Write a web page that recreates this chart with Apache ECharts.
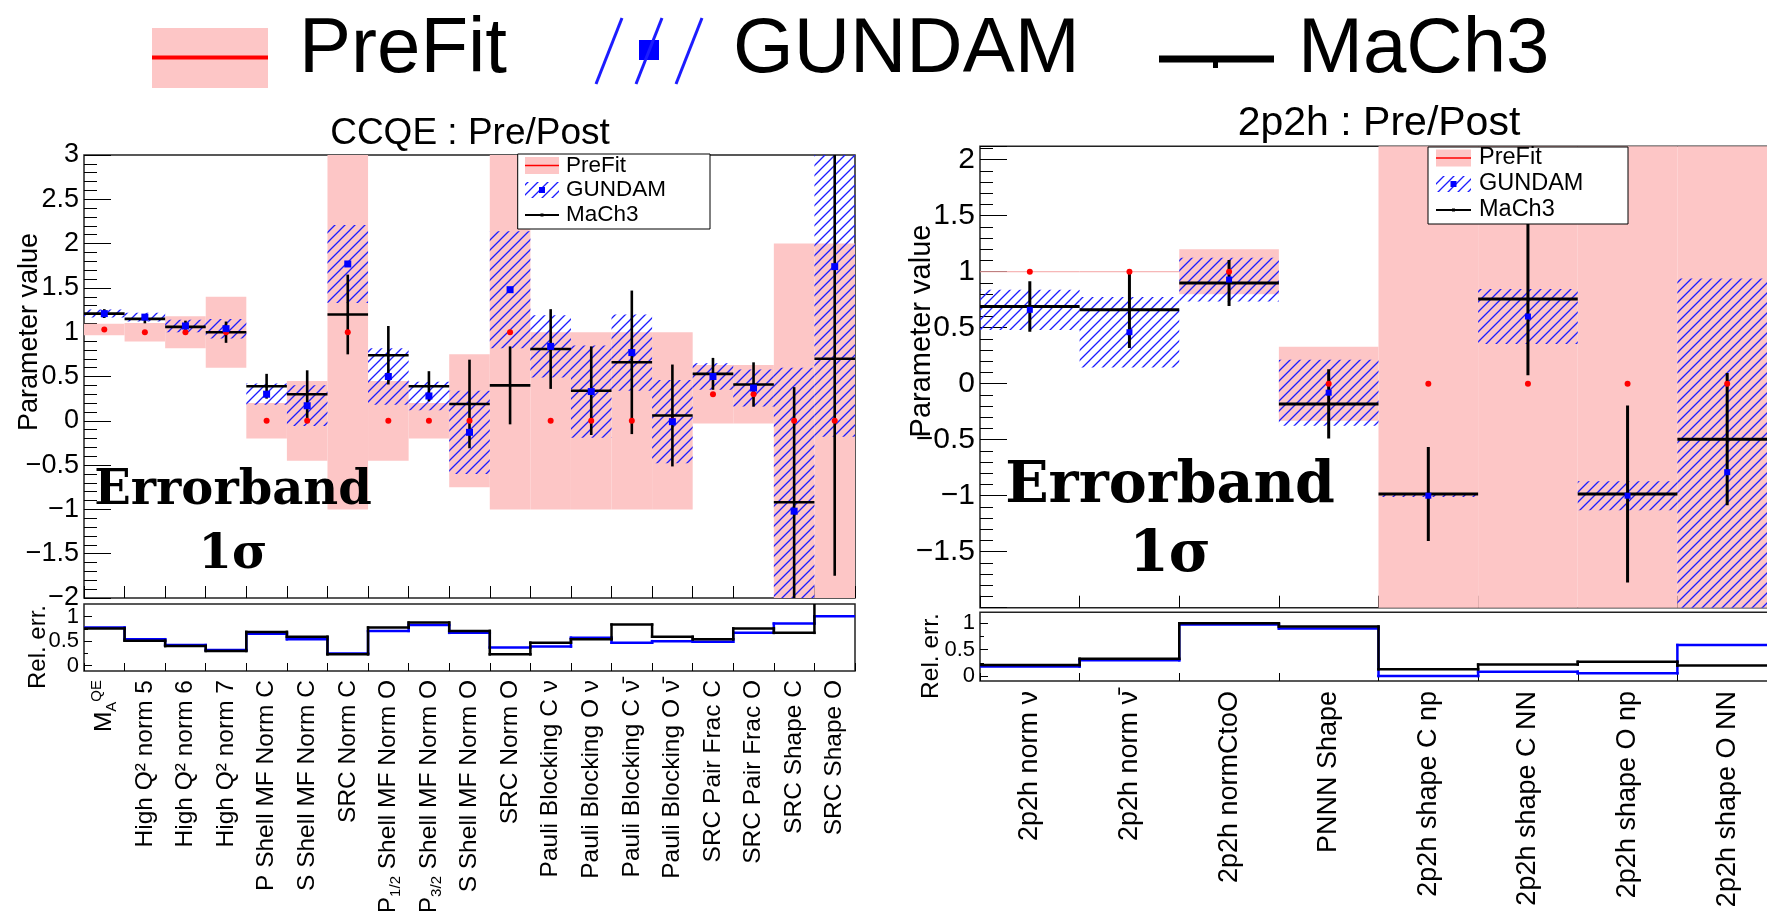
<!DOCTYPE html>
<html><head><meta charset="utf-8">
<script src="https://cdn.jsdelivr.net/npm/echarts@6/dist/echarts.min.js"></script>
<style>html,body{margin:0;padding:0;background:#fff}#c{width:1767px;height:911px}</style>
</head><body><div id="c"></div><script>
// ---------------- data ----------------
const ccqeLabels = ['M_A^QE','High Q\u00B2 norm 5','High Q\u00B2 norm 6','High Q\u00B2 norm 7','P Shell MF Norm C','S Shell MF Norm C','SRC Norm C','P_1/2 Shell MF Norm O','P_3/2 Shell MF Norm O','S Shell MF Norm O','SRC Norm O','Pauli Blocking C \u03BD','Pauli Blocking O \u03BD','Pauli Blocking C \u03BD\u0304','Pauli Blocking O \u03BD\u0304','SRC Pair Frac C','SRC Pair Frac O','SRC Shape C','SRC Shape O'];
const ccqePrefit      = [1.03, 1, 1, 1, 0, 0, 1, 0, 0, 0, 1, 0, 0, 0, 0, 0.3, 0.3, 0, 0];
const ccqePrefitErr   = [0.065, 0.105, 0.18, 0.4, 0.2, 0.45, 2, 0.45, 0.2, 0.75, 2, 1, 1, 1, 1, 0.33, 0.33, 2, 2];
const ccqeGundam      = [1.21, 1.17, 1.07, 1.04, 0.30, 0.17, 1.77, 0.50, 0.28, -0.13, 1.48, 0.84, 0.33, 0.77, -0.01, 0.50, 0.37, -1.02, 1.74];
const ccqeGundamErr   = [0.045, 0.05, 0.07, 0.11, 0.12, 0.23, 0.44, 0.32, 0.16, 0.47, 0.66, 0.35, 0.52, 0.43, 0.47, 0.15, 0.21, 1.62, 1.92];
const ccqeMach3       = [1.21, 1.15, 1.06, 1.0, 0.39, 0.30, 1.2, 0.74, 0.39, 0.19, 0.40, 0.81, 0.34, 0.66, 0.06, 0.53, 0.41, -0.92, 0.70];
const ccqeMach3Err    = [0.05, 0.05, 0.07, 0.12, 0.14, 0.27, 0.45, 0.33, 0.17, 0.5, 0.44, 0.45, 0.5, 0.81, 0.575, 0.18, 0.25, 1.3, 2.45];
const ccqeRelGundam   = [0.78, 0.54, 0.42, 0.32, 0.65, 0.54, 0.25, 0.71, 0.83, 0.67, 0.37, 0.39, 0.57, 0.47, 0.50, 0.49, 0.67, 0.86, 1.01];
const ccqeRelMach3    = [0.76, 0.51, 0.40, 0.30, 0.69, 0.59, 0.23, 0.78, 0.88, 0.71, 0.23, 0.47, 0.54, 0.84, 0.59, 0.54, 0.76, 0.67, 1.35];

const p2Labels = ['2p2h norm \u03BD','2p2h norm \u03BD\u0304','2p2h normCtoO','PNNN Shape','2p2h shape C np','2p2h shape C NN','2p2h shape O np','2p2h shape O NN'];
const p2Prefit     = [1, 1, 1, 0, 0, 0, 0, 0];
const p2PrefitErr  = [0, 0, 0.2, 0.33, 3, 3, 3, 3];
const p2Gundam     = [0.66, 0.46, 0.93, -0.08, -1.0, 0.60, -1.0, -0.79];
const p2GundamErr  = [0.18, 0.315, 0.195, 0.295, 0.012, 0.245, 0.13, 1.73];
const p2Mach3      = [0.69, 0.66, 0.90, -0.18, -0.985, 0.756, -0.985, -0.495];
const p2Mach3Err   = [0.225, 0.34, 0.205, 0.31, 0.42, 0.68, 0.79, 0.59];
const p2RelGundam  = [0.18, 0.30, 0.98, 0.90, 0.0, 0.08, 0.05, 0.59];
const p2RelMach3   = [0.21, 0.33, 1.0, 0.94, 0.13, 0.22, 0.27, 0.20];

const mainTicks = [-2, -1.5, -1, -0.5, 0, 0.5, 1, 1.5, 2, 2.5, 3];
const relTicks = [0, 0.5, 1];

// ---------------- styles ----------------
const FONT = 'Liberation Sans';
const PINK = '#fdc6c6';
const BLUE = '#0000ff';
const HATCH = '#1c1cff';

function makeHatch(step, color, lw) {
  const c = document.createElement('canvas');
  c.width = step; c.height = step;
  const ctx = c.getContext('2d');
  ctx.strokeStyle = color; ctx.lineWidth = lw;
  ctx.beginPath();
  ctx.moveTo(0, step); ctx.lineTo(step, 0);
  ctx.moveTo(-step / 2, step / 2); ctx.lineTo(step / 2, -step / 2);
  ctx.moveTo(step / 2, step * 1.5); ctx.lineTo(step * 1.5, step / 2);
  ctx.stroke();
  return { image: c, repeat: 'repeat' };
}
const hatchFill = makeHatch(10, HATCH, 1.3);

function fmtNum(v) {
  const r = Math.round(v * 10) / 10;
  return r < 0 ? '\u2212' + String(-r) : String(r);
}
function mainFormatter(allowed) {
  return function (v) {
    for (const t of allowed) if (Math.abs(t - v) < 1e-6) return fmtNum(v);
    return '';
  };
}
function labelRich(s) {
  if (s === 'M_A^QE') return '{n|M}{sub|A}{sup|QE}';
  const m = s.match(/^P_(\d\/\d)(.*)$/);
  if (m) return '{n|P}{sub|' + m[1] + '}{n|' + m[2] + '}';
  return '{n|' + s + '}';
}

// ---------------- series builders ----------------
function bandSeries(xi, yi, vals, errs, fill, zeroStroke) {
  return {
    type: 'custom', xAxisIndex: xi, yAxisIndex: yi, clip: true, z: 2,
    data: vals.map((v, i) => [i, v, errs[i]]),
    encode: { x: 0, y: 1 },
    renderItem: function (params, api) {
      const i = api.value(0), v = api.value(1), e = api.value(2);
      const a = api.coord([i, v + e]), b = api.coord([i + 1, v - e]);
      if (e === 0) {
        return { type: 'line', shape: { x1: a[0], y1: a[1], x2: b[0], y2: b[1] }, style: { stroke: zeroStroke, lineWidth: 1 } };
      }
      return { type: 'rect', shape: { x: a[0], y: a[1], width: b[0] - a[0], height: b[1] - a[1] }, style: { fill: fill } };
    }
  };
}
function crossSeries(xi, yi, vals, errs, lw) {
  return {
    type: 'custom', xAxisIndex: xi, yAxisIndex: yi, clip: true, z: 3,
    data: vals.map((v, i) => [i, v, errs[i]]),
    encode: { x: 0, y: 1 },
    renderItem: function (params, api) {
      const i = api.value(0), v = api.value(1), e = api.value(2);
      const l = api.coord([i, v]), r = api.coord([i + 1, v]);
      const t = api.coord([i + 0.5, v + e]), b = api.coord([i + 0.5, v - e]);
      return { type: 'group', children: [
        { type: 'line', shape: { x1: l[0], y1: l[1], x2: r[0], y2: r[1] }, style: { stroke: '#000', lineWidth: lw } },
        { type: 'line', shape: { x1: t[0], y1: t[1], x2: b[0], y2: b[1] }, style: { stroke: '#000', lineWidth: lw } },
        { type: 'circle', shape: { cx: l[0] / 2 + r[0] / 2, cy: l[1], r: 1.5 }, style: { fill: '#000' } }
      ] };
    }
  };
}
function dotSeries(xi, yi, vals, symbol, size, color, z) {
  return {
    type: 'scatter', xAxisIndex: xi, yAxisIndex: yi, z: z,
    symbol: symbol, symbolSize: size, itemStyle: { color: color, opacity: 1 },
    data: vals.map((v, i) => [i + 0.5, v])
  };
}
function stepSeries(xi, yi, vals, color, lw, z) {
  return {
    type: 'custom', xAxisIndex: xi, yAxisIndex: yi, clip: true, z: z,
    data: vals.map((v, i) => [i, v, i > 0 ? vals[i - 1] : v]),
    encode: { x: 0, y: 1 },
    renderItem: function (params, api) {
      const i = api.value(0), v = api.value(1), p = api.value(2);
      const l = api.coord([i, v]), r = api.coord([i + 1, v]);
      const ch = [{ type: 'line', shape: { x1: l[0], y1: l[1], x2: r[0], y2: r[1] }, style: { stroke: color, lineWidth: lw, lineCap: 'square' } }];
      if (i > 0) {
        const q = api.coord([i, p]);
        ch.push({ type: 'line', shape: { x1: l[0], y1: q[1], x2: l[0], y2: l[1] }, style: { stroke: color, lineWidth: lw, lineCap: 'square' } });
      }
      return { type: 'group', children: ch };
    }
  };
}

// ---------------- axes ----------------
function binAxis(grid, n, tickLen) {
  return { type: 'value', gridIndex: grid, position: 'bottom', min: 0, max: n, interval: 1,
    axisLine: { show: false, onZero: false }, axisLabel: { show: false }, splitLine: { show: false },
    axisTick: { show: true, inside: true, length: tickLen, lineStyle: { color: '#000', width: 1 } } };
}
function catAxis(grid, labels, size, margin) {
  return { type: 'category', gridIndex: grid, position: 'bottom', data: labels, boundaryGap: true,
    axisLine: { show: false, onZero: false }, axisTick: { show: false }, splitLine: { show: false },
    axisLabel: { show: true, interval: 0, rotate: 90, margin: margin, color: '#000', fontFamily: FONT, fontSize: size,
      formatter: labelRich,
      rich: { n: { fontSize: size, fontFamily: FONT, color: '#000', lineHeight: 30 },
              sub: { fontSize: 15, fontFamily: FONT, color: '#000', lineHeight: 16, verticalAlign: 'bottom' },
              sup: { fontSize: 15, fontFamily: FONT, color: '#000', lineHeight: 16, verticalAlign: 'top' } } } };
}
function hiddenX(grid) {
  return { type: 'value', gridIndex: grid, show: false, min: 0, max: 1, axisLine: { onZero: false } };
}
function mainY(grid, min, max, labelSize, allowed) {
  return { type: 'value', gridIndex: grid, position: 'left', min: min, max: max, interval: 0.5,
    axisLine: { show: false, onZero: false }, splitLine: { show: false },
    axisTick: { show: true, inside: true, length: 27, lineStyle: { color: '#000', width: 1 } },
    minorTick: { show: true, splitNumber: 5, length: 13, lineStyle: { color: '#000', width: 1 } },
    axisLabel: { show: true, margin: 5, color: '#000', fontFamily: FONT, fontSize: labelSize, formatter: mainFormatter(allowed) } };
}
function hiddenY(grid, min, max) {
  return { type: 'value', gridIndex: grid, show: false, min: min, max: max, axisLine: { onZero: false } };
}
function relLabelY(grid) {
  return { type: 'value', gridIndex: grid, position: 'left', min: 0, max: 1, interval: 0.5,
    axisLine: { show: false, onZero: false }, splitLine: { show: false },
    axisTick: { show: true, inside: true, length: 8, lineStyle: { color: '#000', width: 1 } },
    minorTick: { show: true, splitNumber: 2, length: 4, lineStyle: { color: '#000', width: 1 } },
    axisLabel: { show: true, margin: 5, color: '#000', fontFamily: FONT, fontSize: 22, formatter: mainFormatter(relTicks) } };
}

const frame = { show: true, borderColor: '#222', borderWidth: 1.5, backgroundColor: 'transparent', outerBoundsMode: 'none', containLabel: false };
const grids = [
  Object.assign({ left: 84, top: 155, width: 771, height: 443 }, frame),
  Object.assign({ left: 84, top: 604, width: 771, height: 67 }, frame),
  { left: 84, top: 616.7, width: 771, height: 49, show: false, outerBoundsMode: 'none', containLabel: false },
  Object.assign({ left: 980, top: 146.3, width: 797, height: 461.4 }, frame),
  Object.assign({ left: 980, top: 612.3, width: 797, height: 68.7 }, frame),
  { left: 980, top: 623.3, width: 797, height: 52.7, show: false, outerBoundsMode: 'none', containLabel: false }
];

const N1 = ccqeLabels.length, N2 = p2Labels.length;
const xAxes = [
  binAxis(0, N1, 12), binAxis(1, N1, 8), catAxis(1, ccqeLabels, 24.5, 9), hiddenX(2),
  binAxis(3, N2, 12), binAxis(4, N2, 8), catAxis(4, p2Labels, 27, 10), hiddenX(5)
];
const yAxes = [
  mainY(0, -2, 3, 27, mainTicks), hiddenY(1, -0.11, 1.26), relLabelY(2),
  mainY(3, -2, 2.12, 30, mainTicks.filter(t => t > -2)), hiddenY(4, -0.095, 1.21), relLabelY(5)
];

const series = [
  bandSeries(0, 0, ccqePrefit, ccqePrefitErr, PINK, '#f4a4a4'),
  bandSeries(0, 0, ccqeGundam, ccqeGundamErr, hatchFill, HATCH),
  dotSeries(0, 0, ccqePrefit, 'circle', 6, '#ff0000', 3),
  crossSeries(0, 0, ccqeMach3, ccqeMach3Err, 2.6),
  dotSeries(0, 0, ccqeGundam, 'rect', 7, BLUE, 4),
  stepSeries(1, 1, ccqeRelGundam, BLUE, 2.5, 3),
  stepSeries(1, 1, ccqeRelMach3, '#000', 2.5, 4),

  bandSeries(4, 3, p2Prefit, p2PrefitErr, PINK, '#f4a4a4'),
  bandSeries(4, 3, p2Gundam, p2GundamErr, hatchFill, HATCH),
  dotSeries(4, 3, p2Prefit, 'circle', 6, '#ff0000', 3),
  crossSeries(4, 3, p2Mach3, p2Mach3Err, 3),
  dotSeries(4, 3, p2Gundam, 'rect', 6, BLUE, 4),
  stepSeries(5, 4, p2RelGundam, BLUE, 2.5, 3),
  stepSeries(5, 4, p2RelMach3, '#000', 2.5, 4)
];

// ---------------- graphics (titles, legends, annotations) ----------------
function txt(x, y, s, size, o) {
  o = o || {};
  const el = { type: 'text', x: x, y: y, z: 100, silent: true,
    style: { text: s, fontSize: size, fontFamily: o.family || FONT, fontWeight: o.weight || 'normal', fill: '#000',
      align: o.align || 'left', verticalAlign: 'middle' } };
  if (o.rot) el.rotation = o.rot;
  return el;
}
function rect(x, y, w, h, fill, stroke, lw) {
  return { type: 'rect', z: 100, silent: true, shape: { x: x, y: y, width: w, height: h },
    style: { fill: fill || 'none', stroke: stroke || 'none', lineWidth: lw || 1 } };
}
function line(x1, y1, x2, y2, color, lw) {
  return { type: 'line', z: 101, silent: true, shape: { x1: x1, y1: y1, x2: x2, y2: y2 }, style: { stroke: color, lineWidth: lw } };
}
function innerLegend(bx, by, bw, bh, sx, sw, ys, tx, fs) {
  const els = [rect(bx, by, bw, bh, '#fff', '#000', 1)];
  els.push(rect(sx, ys[0] - 8.5, sw, 17, PINK));
  els.push(line(sx, ys[0], sx + sw, ys[0], '#ff0000', 1.5));
  els.push(rect(sx, ys[1] - 8, sw, 16, hatchFill));
  els.push(rect(sx + sw / 2 - 3, ys[1] - 3, 6, 6, BLUE));
  els.push(line(sx, ys[2], sx + sw, ys[2], '#000', 2.2));
  els.push(rect(sx + sw / 2 - 1.5, ys[2] - 1.5, 3, 3, '#000'));
  els.push(txt(tx, ys[0], 'PreFit', fs));
  els.push(txt(tx, ys[1], 'GUNDAM', fs));
  els.push(txt(tx, ys[2], 'MaCh3', fs));
  return els;
}

const graphics = [
  // top legend
  rect(152, 28, 116, 60, PINK),
  line(152, 57.5, 268, 57.5, '#ff0000', 4),
  txt(299, 50, 'PreFit', 78),
  line(596, 84, 622, 18, HATCH, 3),
  line(636, 84, 662, 18, HATCH, 3),
  line(676, 84, 702, 18, HATCH, 3),
  rect(639, 40, 20, 20, BLUE),
  txt(733, 50, 'GUNDAM', 78),
  line(1159, 59, 1274, 59, '#000', 7),
  rect(1213, 59, 5, 9, '#000'),
  txt(1298, 50, 'MaCh3', 78),
  // titles
  txt(470, 134, 'CCQE : Pre/Post', 37, { align: 'center' }),
  txt(1379, 124, '2p2h : Pre/Post', 41, { align: 'center' }),
  // axis names
  txt(30, 332, 'Parameter value', 27, { align: 'center', rot: Math.PI / 2 }),
  txt(922, 331, 'Parameter value', 29, { align: 'center', rot: Math.PI / 2 }),
  txt(38, 647, 'Rel. err.', 24, { align: 'center', rot: Math.PI / 2 }),
  txt(931, 656, 'Rel. err.', 24.5, { align: 'center', rot: Math.PI / 2 }),
  // annotations
  txt(233, 492, 'Errorband', 48, { align: 'center', family: 'DejaVu Serif', weight: 'bold' }),
  txt(233, 556, '1\u03C3', 48, { align: 'center', family: 'DejaVu Serif', weight: 'bold' }),
  txt(1170, 487, 'Errorband', 57, { align: 'center', family: 'DejaVu Serif', weight: 'bold' }),
  txt(1170, 556, '1\u03C3', 57, { align: 'center', family: 'DejaVu Serif', weight: 'bold' })
].concat(
  innerLegend(517.7, 154, 192.3, 75, 525, 34, [165.5, 190, 215], 566, 22.5),
  innerLegend(1428, 147, 200, 77, 1436, 35, [158, 184, 210], 1479, 23.5)
);

const chart = echarts.init(document.getElementById('c'), null, { renderer: 'canvas' });
chart.setOption({
  animation: false,
  backgroundColor: '#fff',
  textStyle: { fontFamily: FONT },
  grid: grids,
  xAxis: xAxes,
  yAxis: yAxes,
  series: series,
  graphic: graphics
});
</script></body></html>
